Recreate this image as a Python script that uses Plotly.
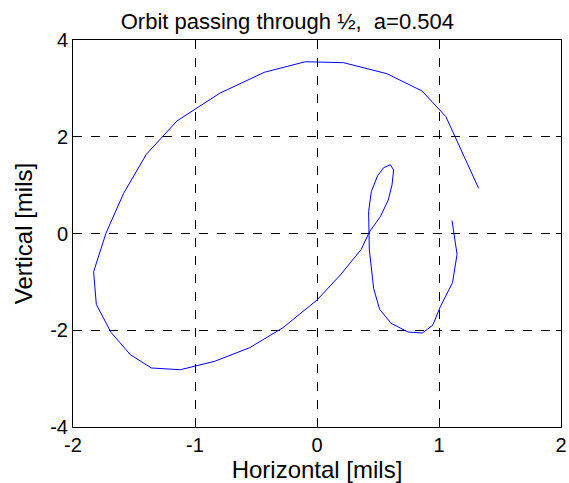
import plotly.graph_objects as go

# Orbit trace (mils)
x_vals = [1.325, 1.202, 1.057, 0.861, 0.574, 0.218, -0.096, -0.432, -0.798, -1.148,
          -1.399, -1.585, -1.730, -1.831, -1.809, -1.689, -1.530, -1.358, -1.120, -0.839,
          -0.552, -0.279, 0.000, 0.191, 0.363, 0.429, 0.519, 0.584, 0.615, 0.628,
          0.601, 0.546, 0.497, 0.445, 0.423, 0.429, 0.464, 0.513, 0.607, 0.746,
          0.863, 0.948, 1.011, 1.111, 1.148, 1.107]
y_vals = [0.934, 1.623, 2.414, 2.946, 3.303, 3.531, 3.551, 3.332, 2.898, 2.326,
          1.637, 0.831, 0.004, -0.790, -1.464, -2.042, -2.505, -2.780, -2.816, -2.642,
          -2.361, -1.947, -1.375, -0.858, -0.327, 0.031, 0.347, 0.692, 1.003, 1.313,
          1.422, 1.360, 1.195, 0.864, 0.451, -0.341, -1.133, -1.567, -1.856, -2.036,
          -2.057, -1.898, -1.513, -1.017, -0.430, 0.265]

x_ticks = [-2, -1, 0, 1, 2]
x_ticklabels = ["-2", "-1", "0", "1", "2"]
y_ticks = [-4, -2, 0, 2, 4]
y_ticklabels = ["-4", "-2", "0", "2", "4"]

fig = go.Figure()
fig.add_trace(go.Scatter(x=x_vals, y=y_vals, mode="lines",
                         line=dict(color="rgb(0,0,255)", width=1),
                         showlegend=False, hoverinfo="skip"))

font = "Liberation Sans, Arial, sans-serif"
axis_common = dict(showline=True, linecolor="black", linewidth=1, mirror="ticks",
                   ticks="inside", ticklen=5, tickcolor="black",
                   showgrid=True, gridcolor="black", gridwidth=1, griddash="dash",
                   zeroline=False, automargin=False,
                   tickfont=dict(family=font, size=20, color="black"))

fig.update_layout(
    width=569, height=483,
    margin=dict(l=73, r=8, t=40, b=56),
    paper_bgcolor="white", plot_bgcolor="white",
    title=dict(text="Orbit passing through ½,  a=0.504", x=0.505, xanchor="center",
               y=0.955, yanchor="middle",
               font=dict(family=font, size=22, color="black")),
    xaxis=dict(range=[-2, 2], tickvals=x_ticks, ticktext=x_ticklabels,
               title=dict(text="Horizontal [mils]", font=dict(family=font, size=24, color="black"),
                          standoff=0),
               **axis_common),
    yaxis=dict(range=[-4, 4], tickvals=y_ticks, ticktext=y_ticklabels,
               title=dict(text="Vertical [mils]", font=dict(family=font, size=24, color="black"),
                          standoff=10),
               **axis_common),
)

fig.write_html("out.html", config={"displayModeBar": False},
               post_script="document.body.style.margin='0';document.body.style.overflow='hidden';")
